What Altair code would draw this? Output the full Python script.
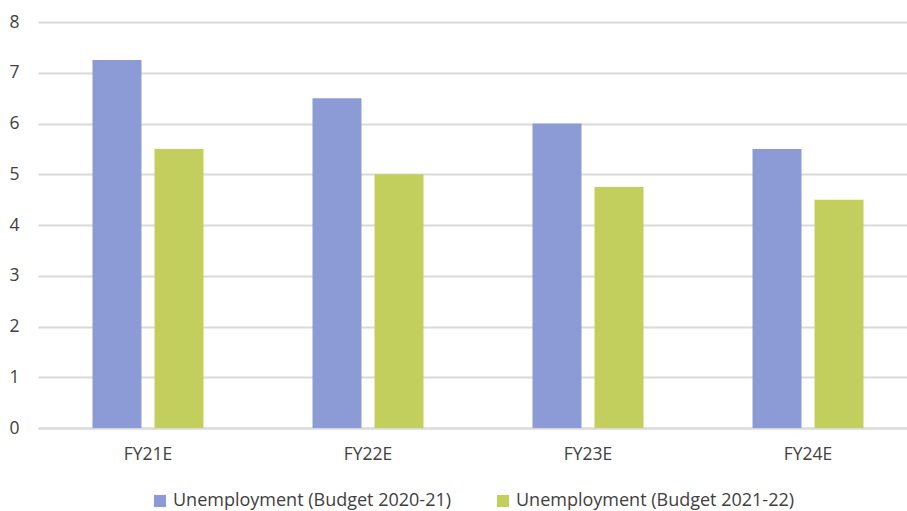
import altair as alt
import pandas as pd

categories = ["FY21E", "FY22E", "FY23E", "FY24E"]
series_names = ["Unemployment (Budget 2020-21)", "Unemployment (Budget 2021-22)"]
budget_2020_21 = [7.25, 6.5, 6.0, 5.5]
budget_2021_22 = [5.5, 5.0, 4.75, 4.5]
colors = ["#8C9BD5", "#C3CF5D"]

rows = []
for c, v in zip(categories, budget_2020_21):
    rows.append({"cat": c, "series": series_names[0], "value": v})
for c, v in zip(categories, budget_2021_22):
    rows.append({"cat": c, "series": series_names[1], "value": v})
df = pd.DataFrame(rows)

FONT = "Open Sans"
FS = 17.5

chart = alt.Chart(df).mark_bar().encode(
    x=alt.X("cat:N", sort=categories, title=None,
            scale=alt.Scale(paddingInner=0.4955, paddingOuter=0.2477, range=[0, 880]),
            axis=alt.Axis(labelAngle=0, labelFontSize=FS, labelColor="#404040",
                          labelFont=FONT, labelPadding=17, ticks=False,
                          domainColor="#D9D9D9", domainWidth=2)),
    xOffset=alt.XOffset("series:N", sort=series_names,
                        scale=alt.Scale(paddingInner=0.21, paddingOuter=0)),
    y=alt.Y("value:Q", title=None,
            scale=alt.Scale(domain=[0, 8]),
            axis=alt.Axis(values=[0, 1, 2, 3, 4, 5, 6, 7, 8], labelFontSize=FS,
                          labelColor="#404040", labelFont=FONT, labelPadding=19,
                          ticks=False, domain=False, gridColor="#D9D9D9",
                          gridWidth=2)),
    color=alt.Color("series:N", sort=series_names,
                    scale=alt.Scale(domain=series_names, range=colors),
                    legend=alt.Legend(title=None, orient="none", direction="horizontal",
                                      legendX=113, legendY=470,
                                      symbolType="square", symbolSize=144,
                                      symbolStrokeWidth=0,
                                      labelFontSize=18, labelColor="#404040",
                                      labelFont=FONT, columnPadding=42,
                                      labelLimit=400)),
).properties(
    width=869, height=406,
    padding={"left": 38, "top": 22, "right": 0, "bottom": 83},
    autosize=alt.AutoSizeParams(type="none"),
).configure_view(stroke=None)

chart.save("out.html", embed_options={"renderer": "svg", "actions": False})
